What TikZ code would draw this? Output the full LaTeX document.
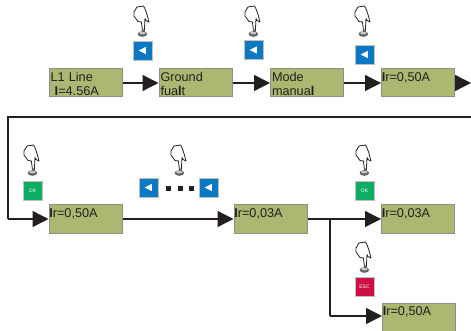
\documentclass[tikz,border=0pt]{standalone}
\usepackage{fontspec}
\setmainfont{Liberation Sans}
\usetikzlibrary{arrows.meta}
\definecolor{lcd}{HTML}{AAB872}
\definecolor{lcdedge}{HTML}{8C8F88}
\definecolor{ink}{HTML}{231F20}
\definecolor{keyblue}{HTML}{0A78C2}
\definecolor{keygreen}{HTML}{0DAE63}
\definecolor{keyred}{HTML}{CE0F45}
\newcommand{\lowr}{\rule{0pt}{11.1pt}}
\newcommand{\irbar}{\hspace*{-1.2pt}{\bfseries I}}
\tikzset{
  lcdbox/.style={draw=lcdedge,line width=1pt,fill=lcd,minimum width=73pt,minimum height=28pt,inner sep=0pt,
    text width=70pt,align=left,font=\fontsize{12.7}{13.5}\selectfont,text=ink},
  link/.style={draw=ink,line width=1.3pt,-{Triangle[length=16pt,width=16pt,color=ink]}},
  plainlink/.style={draw=ink,line width=1.3pt},
  keybox/.style={draw=black!25,line width=0.8pt,minimum size=19pt,inner sep=0pt,text=white,font=\fontsize{5}{5}\selectfont},
  bluekey/.style={keybox,fill=keyblue},
  greenkey/.style={keybox,fill=keygreen},
  redkey/.style={keybox,fill=keyred},
  dotsq/.style={fill=ink,minimum size=5pt,inner sep=0pt},
  hand/.pic={
    \draw[ink,line width=0.8pt,fill=white,line join=round]
      (0.4,24) -- (-0.6,16) -- (-4,15.5) -- (-8,10) -- (-8,6) -- (-5,1) -- (1.5,0)
      .. controls (3.5,3) and (5,8) .. (7,16) -- (4,14.5) -- (3,12.5) -- (2.4,24) -- cycle;
    \fill[ink!70] (0.4,28) ellipse [x radius=4.8pt,y radius=2.8pt];
    \fill[ink!25] (0.4,27) ellipse [x radius=3.2pt,y radius=1.4pt];
    \fill[ink!70] (-0.5,24) rectangle (2.5,26);
  }
}
\begin{document}
\begin{tikzpicture}[x=1pt,y=-1pt]
\useasboundingbox (0,0) rectangle (471,331);
\node[lcdbox] (a1) at (85.5,83) {\lowr L1 Line\\\ {\bfseries I}=4.56A};
\node[lcdbox] (a2) at (195.5,83) {\lowr Ground\\fua{\bfseries l}t};
\node[lcdbox] (a3) at (307,83) {\lowr Mode\\manua{\bfseries l}};
\node[lcdbox] (a4) at (418,83) {\lowr \irbar r=0,50A\\\mbox{}};
\node[lcdbox] (b1) at (85.5,219) {\lowr \irbar r=0,50A\\\mbox{}};
\node[lcdbox] (b2) at (270.5,219) {\lowr \irbar r=0,03A\\\mbox{}};
\node[lcdbox] (b3) at (418,219) {\lowr \irbar r=0,03A\\\mbox{}};
\node[lcdbox] (b4) at (419,317) {\lowr \irbar r=0,50A\\\mbox{}};

\coordinate (outR) at (471,83);
\coordinate (wrapR) at (471,117);
\coordinate (wrapL) at (8,117);
\coordinate (wrapB) at (8,219);
\coordinate (split) at (330,219);
\coordinate (splitB) at (330,316);

\draw[link] (a1) -- (a2);
\draw[link] (a2) -- (a3);
\draw[link] (a3) -- (a4);
\draw[link] (a4) -- (outR);
\draw[plainlink] (wrapR) -- (wrapL) -- (wrapB);
\draw[link] (wrapB) -- (b1);
\draw[link] (b1) -- (b2);
\draw[link] (b2) -- (b3);
\draw[plainlink] (split) -- (splitB);
\draw[link] (splitB) -- (b4.west |- splitB);

\node[bluekey] (k1) at (142.5,50.5) {};
\node[bluekey] (k2) at (253.5,50) {};
\node[bluekey] (k3) at (364.5,54.5) {};
\node[greenkey] (k4) at (32.5,190.5) {OK};
\node[bluekey] (k5) at (148.5,187.5) {};
\node[bluekey] (k6) at (208.5,187.5) {};
\node[greenkey] (k7) at (364.5,190.5) {OK};
\node[redkey] (k8) at (364.5,286.5) {ESC};
\foreach \k in {k1,k2,k3,k5,k6}
  \fill[white] (\k.center) ++(-3.8,0) -- ++(7.2,-3.7) -- ++(0,7.4) -- cycle;
\node[dotsq] (d1) at (168.5,188.5) {};
\node[dotsq] (d2) at (180.5,188.5) {};
\node[dotsq] (d3) at (191.5,188.5) {};

\pic at (142,6) {hand};
\pic at (253,6) {hand};
\pic at (363,6) {hand};
\pic at (32,145) {hand};
\pic at (179,145) {hand};
\pic at (364,145) {hand};
\pic at (364,242) {hand};
\end{tikzpicture}
\end{document}
